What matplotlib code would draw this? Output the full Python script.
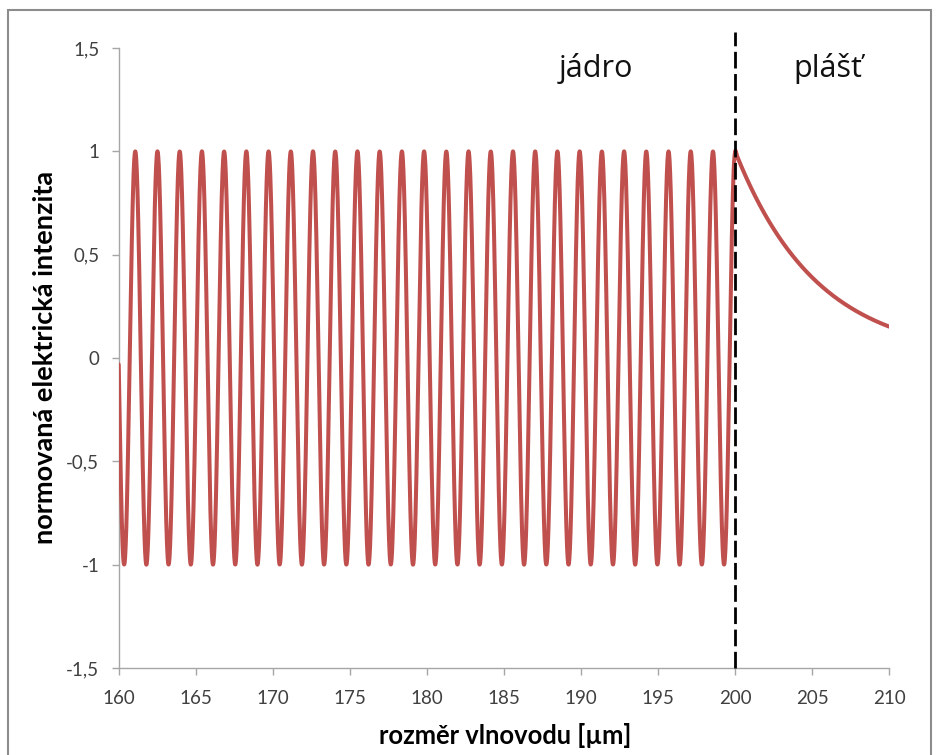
import numpy as np
import matplotlib
matplotlib.use("Agg")
import matplotlib.pyplot as plt
from matplotlib.patches import Rectangle

# ---- data (parameters) ----
x_start = 160.0          # start of the plotted core region [um]
x_interface = 200.0      # core / cladding boundary [um]
x_end = 210.0            # end of the plotted cladding region [um]
sample_step = 0.1        # spacing of the tabulated points [um]
core_period = 1.4417     # period of the field oscillation in the core [um]
clad_decay = 5.3         # 1/e decay length of the evanescent field [um]

x_ticks = [160, 165, 170, 175, 180, 185, 190, 195, 200, 205, 210]
y_ticks = [-1.5, -1.0, -0.5, 0.0, 0.5, 1.0, 1.5]
y_tick_labels = ["-1,5", "-1", "-0,5", "0", "0,5", "1", "1,5"]
region_labels = ["jádro", "plášť"]
x_label = "rozměr vlnovodu [µm]"
y_label = "normovaná elektrická intenzita"

# tabulated points
x_core = np.arange(x_start, x_interface + 1e-9, sample_step)
y_core = np.cos(2 * np.pi * (x_core - x_interface) / core_period)
x_clad = np.arange(x_interface + sample_step, x_end + 1e-9, sample_step)
y_clad = np.exp(-(x_clad - x_interface) / clad_decay)
x_pts = np.concatenate([x_core, x_clad])
y_pts = np.concatenate([y_core, y_clad])


def catmull_rom(x, y, n=12):
    """Smoothed line through tabulated points (like a spreadsheet smooth line)."""
    xp = np.concatenate([[2 * x[0] - x[1]], x, [2 * x[-1] - x[-2]]])
    yp = np.concatenate([[2 * y[0] - y[1]], y, [2 * y[-1] - y[-2]]])
    t = np.linspace(0, 1, n, endpoint=False)[:, None]
    out_x, out_y = [], []
    for arr, out in ((xp, out_x), (yp, out_y)):
        p0, p1, p2, p3 = arr[:-3], arr[1:-2], arr[2:-1], arr[3:]
        seg = 0.5 * (2 * p1 + (-p0 + p2) * t + (2 * p0 - 5 * p1 + 4 * p2 - p3) * t ** 2
                     + (-p0 + 3 * p1 - 3 * p2 + p3) * t ** 3)
        out.append(np.concatenate([seg.T.ravel(), [arr[-2]]]))
    return out_x[0], out_y[0]


xs, ys = catmull_rom(x_pts, y_pts)

# ---- figure ----
W, H = 938, 755
fig = plt.figure(figsize=(W / 100, H / 100), dpi=100)
fig.patch.set_facecolor("white")

# outer chart border
fig.add_artist(Rectangle((8 / W, 1 - 760 / H), (931 - 8) / W, (760 - 10) / H,
                         transform=fig.transFigure, fill=False,
                         edgecolor="#8c8c8c", linewidth=1.5))

left, right = 118.7 / W, 889.3 / W
bottom, top = 1 - 668 / H, 1 - 48 / H
ax = fig.add_axes([left, bottom, right - left, top - bottom])

ax.plot(xs, ys, color="#C0504D", linewidth=2.9, solid_capstyle="round", zorder=3)

ax.set_xlim(x_start, x_end)
ax.set_ylim(-1.5, 1.5)

# boundary line (extends above the plot area)
ax.axvline(x_interface, ymin=0, ymax=(668 - 32) / 620, color="black",
           linewidth=2.0, linestyle=(0, (6.0, 2.0)), clip_on=False, zorder=4)

for s in ("top", "right"):
    ax.spines[s].set_visible(False)
for s in ("left", "bottom"):
    ax.spines[s].set_color("#a6a6a6")
    ax.spines[s].set_linewidth(1.0)

tick_font = dict(family="Lato", size=13.5)
ax.set_xticks(x_ticks)
ax.set_xticklabels([str(v) for v in x_ticks], fontdict=tick_font, color="#404040")
ax.set_yticks(y_ticks)
ax.set_yticklabels(y_tick_labels, fontdict=tick_font, color="#404040")
ax.tick_params(axis="both", direction="out", length=5, width=1.0, color="#a6a6a6")
ax.tick_params(axis="x", pad=11)
ax.tick_params(axis="y", pad=9)

ax.set_xlabel(x_label, family="Lato", weight="bold", size=18.4, color="#000000")
ax.set_ylabel(y_label, family="Lato", weight="bold", size=19.5, color="#000000")
ax.xaxis.set_label_coords((505 - 118.7) / 770.6, (668 - 735) / 620)
ax.yaxis.set_label_coords((45 - 118.7) / 770.6, (668 - 357) / 620)
ax.xaxis.label.set_va("center")
ax.yaxis.label.set_va("center")

fig.text(596 / W, 1 - 68 / H, region_labels[0], family="Open Sans", size=22,
         ha="center", va="center", color="#111111")
fig.text(828 / W, 1 - 68 / H, region_labels[1], family="Open Sans", size=22,
         ha="center", va="center", color="#111111")

fig.savefig("out.png", dpi=100, facecolor="white")
